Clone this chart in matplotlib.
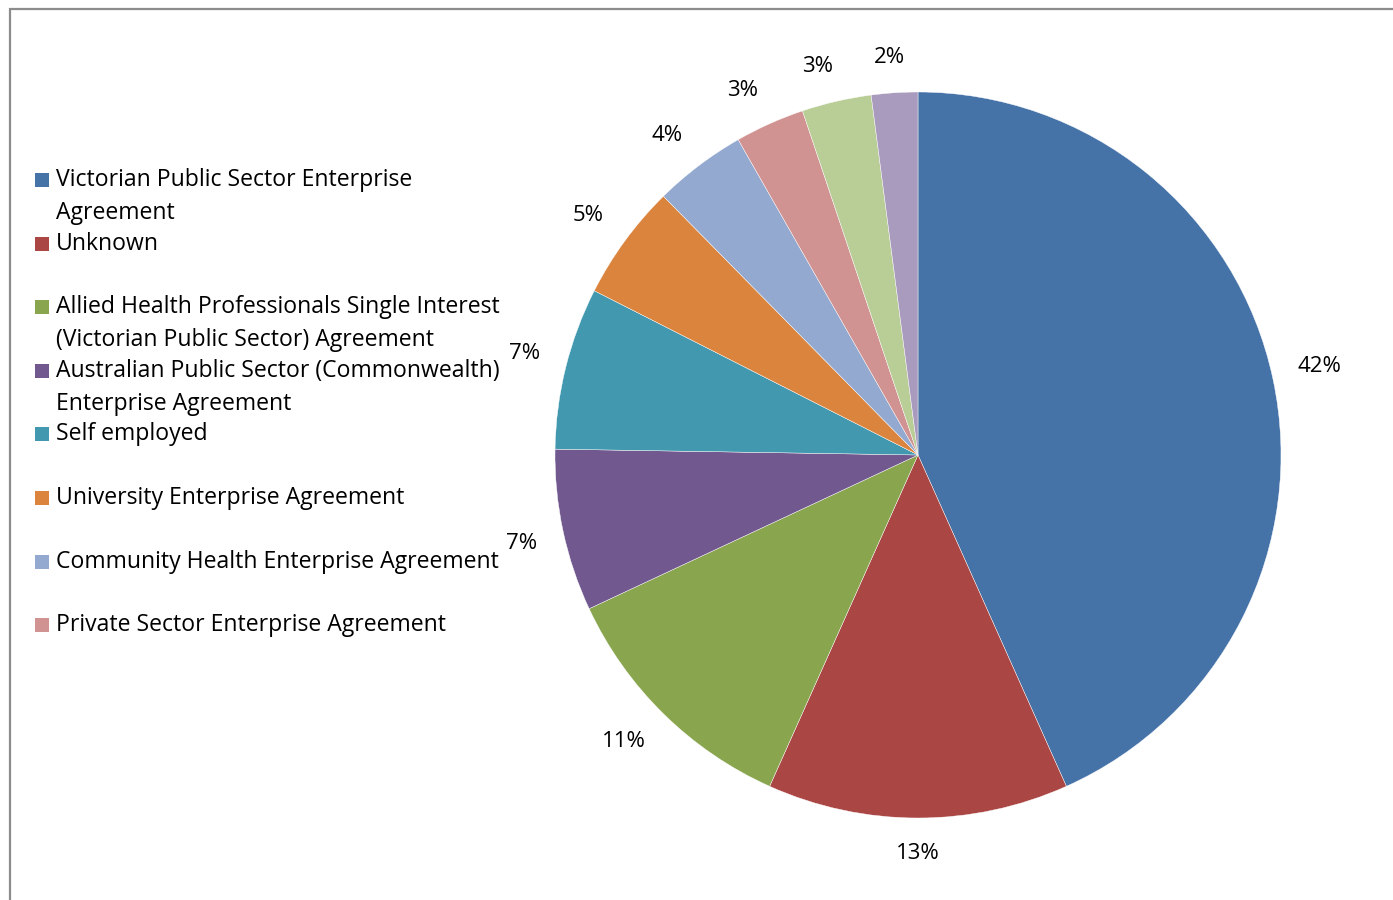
import numpy as np
import matplotlib.pyplot as plt
from matplotlib.patches import Rectangle

plt.rcParams['font.family'] = ['Open Sans', 'DejaVu Sans']

# share of respondents by agreement type, clockwise from 12 o'clock
shares = [42, 13, 11, 7, 7, 5, 4, 3, 3, 2]
colors = ['#4572A7', '#AA4643', '#89A54E', '#71588F', '#4198AF',
          '#DB843D', '#93A9CF', '#D19392', '#B9CD96', '#A99BBD']
# only the first eight entries fit in the legend box
legend_labels = [
    'Victorian Public Sector Enterprise\nAgreement',
    'Unknown',
    'Allied Health Professionals Single Interest\n(Victorian Public Sector) Agreement',
    'Australian Public Sector (Commonwealth)\nEnterprise Agreement',
    'Self employed',
    'University Enterprise Agreement',
    'Community Health Enterprise Agreement',
    'Private Sector Enterprise Agreement',
]
legend_rows = [180, 244, 307, 371, 434, 498, 562, 625]  # px from top

W, H = 1393, 900
fig = plt.figure(figsize=(W / 100, H / 100), dpi=100)

# chart border, cut off on the right and bottom
fig.patches.append(Rectangle((10 / W, -0.1), 1.2, 1 - 9 / H + 0.1,
                             transform=fig.transFigure, fill=False,
                             edgecolor='#8C8C8C', linewidth=1.6))

cx, cy, r = 918, 455, 363
ax = fig.add_axes([(cx - r) / W, (H - cy - r) / H, 2 * r / W, 2 * r / H])
wedges, _ = ax.pie(shares, colors=colors, startangle=90, counterclock=False,
                   radius=1.0, wedgeprops=dict(linewidth=0.3, edgecolor='white'))
ax.set_xlim(-1, 1)
ax.set_ylim(-1, 1)
ax.set_aspect('equal')
ax.axis('off')

# outside-end labels: the text box corner nearest the pie sits a fixed
# distance beyond the rim, along the slice's mid angle
for w, v in zip(wedges, shares):
    mid = np.deg2rad((w.theta1 + w.theta2) / 2)
    ux, uy = np.cos(mid), np.sin(mid)
    tw = 46 if v >= 10 else 35
    th = 22
    px = (r + 24) * ux + np.sign(ux) * min(1, abs(ux) / 0.3) * tw / 2
    py = (r + 24) * uy + np.sign(uy) * min(1, abs(uy) / 0.3) * th / 2
    ax.text(px / r, py / r, '%d%%' % v,
            ha='center', va='center', fontsize=16, color='black',
            clip_on=False)

# legend drawn by hand so the rows keep their uneven spacing
for lab, col, y in zip(legend_labels, colors, legend_rows):
    fig.patches.append(Rectangle((35 / W, 1 - (y + 7) / H), 14 / W, 14 / H,
                                 transform=fig.transFigure,
                                 facecolor=col, edgecolor='none'))
    for i, line in enumerate(lab.split('\n')):
        fig.text(56 / W, 1 - (y + 33 * i) / H, line, ha='left', va='center',
                 fontsize=16.6, color='black')

fig.savefig('out.png', dpi=100)
